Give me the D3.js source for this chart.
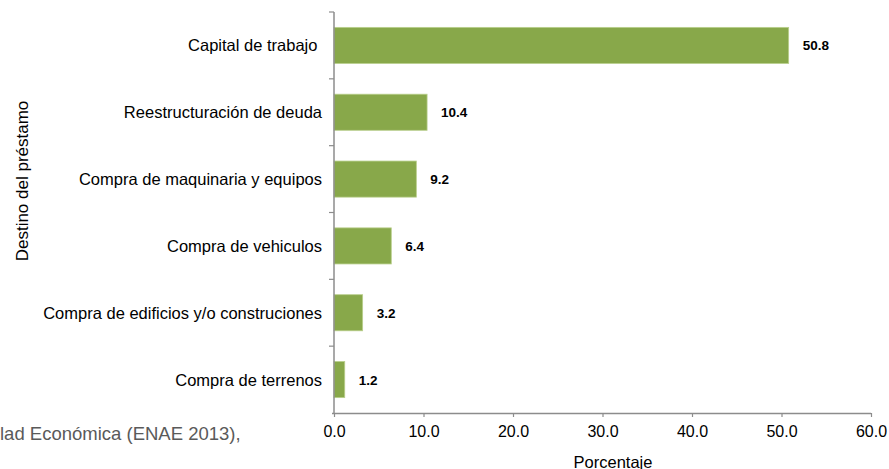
<!DOCTYPE html>
<html><head><meta charset="utf-8">
<script src="https://cdn.jsdelivr.net/npm/d3@7"></script>
<style>
body{margin:0;background:#fff;}
svg{display:block;}
text{font-family:"Liberation Sans",Arial,sans-serif;}
</style></head>
<body><svg id="c" width="889" height="469"></svg>
<script>
const categories = ["Capital de trabajo ", "Reestructuración de deuda", "Compra de maquinaria y equipos", "Compra de vehiculos", "Compra de edificios y/o construciones", "Compra de terrenos"];
const values = [50.8, 10.4, 9.2, 6.4, 3.2, 1.2];
const xTicks = [0, 10, 20, 30, 40, 50, 60];

const svg = d3.select("#c");
const x = d3.scaleLinear().domain([0, 60]).range([334, 871]);
const y = d3.scaleBand().domain(categories).range([12, 413]).paddingInner(0.46).paddingOuter(0.23);

// bars
svg.selectAll("rect.bar").data(values).join("rect")
  .attr("x", x(0)).attr("y", (d,i)=>y(categories[i]))
  .attr("width", d=>x(d)-x(0)).attr("height", y.bandwidth())
  .attr("fill", "#88a84a").attr("stroke", "#b9cf8c").attr("stroke-width", 0.8);

// value labels
svg.selectAll("text.val").data(values).join("text")
  .attr("x", d=>x(d)+14).attr("y", (d,i)=>y(categories[i])+y.bandwidth()/2+5)
  .attr("font-size", 13.5).attr("font-weight", "bold").attr("fill", "#000")
  .text(d=>d.toFixed(1));

// x axis
const xAxis = d3.axisBottom(x).tickValues(xTicks).tickFormat(d3.format(".1f")).tickSize(4).tickSizeOuter(0);
const gx = svg.append("g").attr("transform", "translate(0,413)").call(xAxis);
gx.select(".domain").attr("stroke", "#8c8c8c").attr("stroke-width", 1.5).attr("d", "M332,0.5H871");
gx.selectAll(".tick line").attr("stroke", "#8c8c8c").attr("stroke-width", 1.2);
gx.selectAll(".tick text").attr("font-size", 16).attr("fill", "#000").attr("dy", "1.05em")
  .attr("font-family", "'Liberation Sans',Arial,sans-serif");

// y axis
const step = y.step();
const gy = svg.append("g");
gy.append("line").attr("x1", 334).attr("x2", 334).attr("y1", 12).attr("y2", 413)
  .attr("stroke", "#8c8c8c").attr("stroke-width", 1.5);
const bounds = categories.map(c => y(c) - step*y.paddingInner()/2);
gy.selectAll("line.t").data(bounds).join("line")
  .attr("x1", 329).attr("x2", 334).attr("y1", d=>d).attr("y2", d=>d)
  .attr("stroke", "#8c8c8c").attr("stroke-width", 1.2);
gy.selectAll("text.cat").data(categories).join("text")
  .attr("x", 322).attr("y", d=>y(d)+y.bandwidth()/2+6)
  .attr("text-anchor", "end").attr("font-size", 16.5).attr("fill", "#000")
  .attr("xml:space", "preserve").style("white-space", "pre")
  .text(d=>d);

// axis titles
svg.append("text").attr("transform", "translate(28,181) rotate(-90)")
  .attr("text-anchor", "middle").attr("font-size", 17).attr("fill", "#000")
  .text("Destino del préstamo");
svg.append("text").attr("x", 613).attr("y", 468)
  .attr("text-anchor", "middle").attr("font-size", 16.5).attr("fill", "#000")
  .text("Porcentaje");

// source note (clipped)
svg.append("text").attr("x", 0).attr("y", 440)
  .attr("font-size", 18.5).attr("fill", "#5a5a5a")
  .text("lad Económica (ENAE 2013),");
</script></body></html>
